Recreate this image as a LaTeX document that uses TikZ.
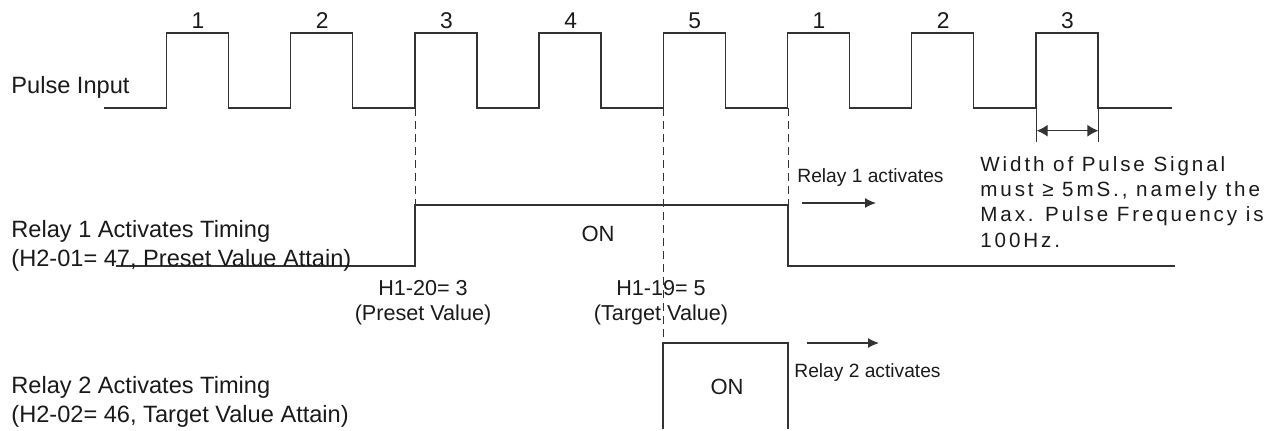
\documentclass[tikz,border=0pt]{standalone}
\usepackage{fontspec}
\setmainfont{Liberation Sans}
\newfontfamily\spacedfont[LetterSpace=14]{Liberation Sans}
\usepackage{tikz}
\usetikzlibrary{arrows.meta}
\definecolor{ink}{HTML}{1A1A1A}
\definecolor{wire}{HTML}{333333}

\tikzset{
  wave/.style={wire,line width=0.65pt},
  guide/.style={wire,line width=0.5pt,dash pattern=on 4pt off 2.5pt},
  pointer/.style={wire,line width=0.65pt,-{Latex[length=5.5pt,width=5pt]}},
  label/.style={inner sep=0pt,text=ink,font=\fontsize{11.8}{14.5}\selectfont,align=left},
  small/.style={inner sep=0pt,text=ink,font=\fontsize{9.6}{11.5}\selectfont},
  pnum/.style={inner sep=0pt,text=ink,font=\fontsize{11.4}{12}\selectfont,anchor=base},
  param/.style={inner sep=0pt,text=ink,font=\fontsize{10.8}{12.5}\selectfont,align=center,anchor=north}
}

\begin{document}
\begin{tikzpicture}[x=0.5pt,y=-0.5pt]
  \useasboundingbox (0,0) rectangle (1280,430);

  % pulse train
  \draw[wave] (104,108)
    \foreach \k in {0,...,7}{ -- ({166.5+124.2*\k},108) -- ++(0,-75) -- ++(62,0) -- ++(0,75) }
    -- (1172,108);
  \foreach \k/\n in {0/1,1/2,2/3,3/4,4/5,5/1,6/2,7/3}
    \node[pnum] (num\k) at ({198+124.2*\k},28) {\n};
  \node[label,anchor=base west] (pulselbl) at (11,93) {Pulse Input};

  % pulse width marker
  \draw[wave] (1036.7,108) -- (1036.7,142);
  \draw[wave] (1098.4,108) -- (1098.4,142);
  \coordinate (wl) at (1036.7,130.7);
  \coordinate (wr) at (1098.4,130.7);
  \draw[wave,{Latex[length=5.5pt,width=6pt]}-{Latex[length=5.5pt,width=6pt]}] (wl) -- (wr);
  \node[inner sep=0pt,text=ink,font=\spacedfont\fontsize{10.3}{12.65}\selectfont,
        align=left,anchor=north west] (widthnote) at (980,156)
    {Width of Pulse Signal\\must \char"2265\ 5mS., namely the\\Max. Pulse Frequency is\\100Hz.};

  % relay 1
  \draw[wave] (116,266) -- (415,266) -- (415,205) -- (788,205) -- (788,266) -- (1175,266);
  \draw[guide] (415,108) -- (415,205);
  \draw[guide] (788,108) -- (788,205);
  \node[label,anchor=north west] (relay1lbl) at (11,220)
    {Relay 1 Activates Timing\\(H2-01= 47, Preset Value Attain)};
  \node[label,font=\fontsize{11}{12}\selectfont] (on1) at (598,234) {ON};
  \node[small,anchor=base west] (act1) at (797,182) {Relay 1 activates};
  \coordinate (a1s) at (802,203);
  \coordinate (a1e) at (876,203);
  \draw[pointer] (a1s) -- (a1e);

  % preset / target values
  \node[param] (preset) at (423,280) {H1-20= 3\\(Preset Value)};
  \node[param] (target) at (661,280) {H1-19= 5\\(Target Value)};

  % relay 2
  \draw[wave] (663,429) -- (663,343) -- (788,343) -- (788,429);
  \draw[guide] (663,108) -- (663,343);
  \node[label,anchor=north west] (relay2lbl) at (11,376)
    {Relay 2 Activates Timing\\(H2-02= 46, Target Value Attain)};
  \node[label,font=\fontsize{11}{12}\selectfont] (on2) at (727,387) {ON};
  \node[small,anchor=base west] (act2) at (794,377) {Relay 2 activates};
  \coordinate (a2s) at (807,343);
  \coordinate (a2e) at (879,343);
  \draw[pointer] (a2s) -- (a2e);
\end{tikzpicture}
\end{document}
